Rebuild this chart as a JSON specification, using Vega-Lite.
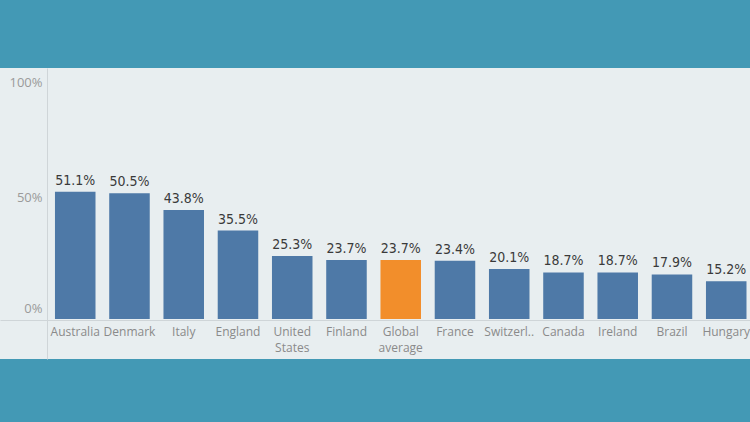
{
  "$schema": "https://vega.github.io/schema/vega-lite/v6.json",
  "width": 750,
  "height": 291,
  "autosize": {"type": "none"},
  "padding": {"left": 0, "right": 0, "top": 68, "bottom": 63},
  "background": "#4399b5",
  "config": {"view": {"fill": "#e8eef0", "stroke": null}, "font": "Open Sans"},
  "data": {
    "values": [
      {"country": "Australia", "value": 0.511, "kind": "country"},
      {"country": "Denmark", "value": 0.505, "kind": "country"},
      {"country": "Italy", "value": 0.438, "kind": "country"},
      {"country": "England", "value": 0.355, "kind": "country"},
      {"country": "United States", "value": 0.253, "kind": "country"},
      {"country": "Finland", "value": 0.237, "kind": "country"},
      {"country": "Global average", "value": 0.237, "kind": "average"},
      {"country": "France", "value": 0.234, "kind": "country"},
      {"country": "Switzerland", "value": 0.201, "kind": "country"},
      {"country": "Canada", "value": 0.187, "kind": "country"},
      {"country": "Ireland", "value": 0.187, "kind": "country"},
      {"country": "Brazil", "value": 0.179, "kind": "country"},
      {"country": "Hungary", "value": 0.152, "kind": "country"}
    ]
  },
  "encoding": {
    "x": {
      "field": "country",
      "type": "nominal",
      "sort": null,
      "scale": {"paddingInner": 0.253, "paddingOuter": 0.539, "align": 0.94},
      "axis": {
        "title": null,
        "orient": "bottom",
        "offset": -39,
        "labelAngle": 0,
        "ticks": false,
        "domainColor": "#cfd5d8",
        "labelColor": "#8a8a8a",
        "labelFontSize": 12,
        "labelPadding": 6,
        "labelLineHeight": 16,
        "labelExpr": "datum.label == 'Switzerland' ? 'Switzerl..' : split(datum.label, ' ')"
      }
    },
    "y": {
      "field": "value",
      "type": "quantitative",
      "scale": {"domain": [-0.1606, 1.008], "nice": false},
      "axis": {
        "title": null,
        "orient": "left",
        "offset": -47,
        "values": [0, 0.5, 1],
        "format": ".0%",
        "ticks": false,
        "grid": false,
        "domainColor": "#cfd5d8",
        "labelColor": "#9a9a9a",
        "labelFontSize": 13,
        "labelPadding": 5,
        "labelBaseline": "middle",
        "labelOffset": {
          "condition": [
            {"test": "datum.value == 1", "value": 13},
            {"test": "datum.value == 0", "value": -11}
          ],
          "value": 2.5
        }
      }
    }
  },
  "layer": [
    {
      "mark": {"type": "bar"},
      "encoding": {
        "y2": {"datum": 0},
        "color": {
          "field": "kind",
          "type": "nominal",
          "scale": {"domain": ["country", "average"], "range": ["#4e79a7", "#f28e2b"]},
          "legend": null
        }
      }
    },
    {
      "mark": {"type": "text", "baseline": "alphabetic", "dy": -7, "fontSize": 14, "font": "DejaVu Sans Condensed, Roboto, sans-serif", "color": "#3a3a3a"},
      "encoding": {"text": {"field": "value", "format": ".1%"}}
    }
  ]
}
